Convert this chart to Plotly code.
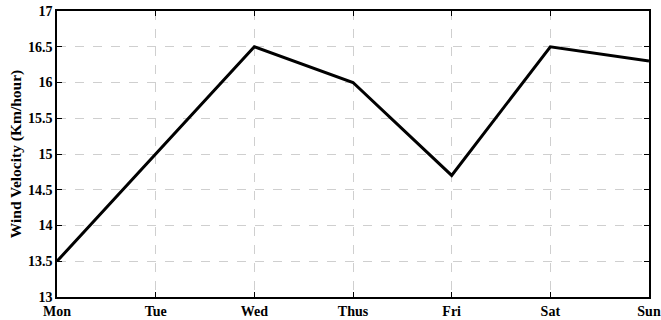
import plotly.graph_objects as go

days = ["Mon", "Tue", "Wed", "Thus", "Fri", "Sat", "Sun"]
velocity = [13.5, 15.0, 16.5, 16.0, 14.7, 16.5, 16.3]
y_ticks = [13, 13.5, 14, 14.5, 15, 15.5, 16, 16.5, 17]
y_tick_labels = ["13", "13.5", "14", "14.5", "15", "15.5", "16", "16.5", "17"]

font = dict(family="Liberation Serif, Times New Roman, serif", size=14, color="black")

fig = go.Figure()
fig.add_trace(go.Scatter(
    x=list(range(len(days))), y=velocity, mode="lines",
    line=dict(color="black", width=3), showlegend=False,
))

axis_common = dict(
    showline=True, linecolor="black", linewidth=1.5, mirror="ticks",
    ticks="inside", ticklen=5, tickcolor="black", tickwidth=1,
    showgrid=True, gridcolor="#cfcfcf", griddash="dash", gridwidth=1,
    zeroline=False, tickfont=font, automargin=False,
)

fig.update_layout(
    width=661, height=320,
    margin=dict(l=57, r=12, t=11, b=23),
    paper_bgcolor="white", plot_bgcolor="white",
    font=font,
    xaxis=dict(
        range=[0, 6], tickmode="array", tickvals=list(range(len(days))),
        ticktext=[f"<b>{d}</b>" for d in days], **axis_common,
    ),
    yaxis=dict(
        range=[13, 17], tickmode="array", tickvals=y_ticks,
        ticktext=[f"<b>{t}</b>" for t in y_tick_labels],
        title=dict(text="<b>Wind Velocity (Km/hour)</b>", font=dict(size=15.5), standoff=3),
        **axis_common,
    ),
)

fig.write_html(
    "out.html",
    config={"displayModeBar": False},
    post_script="document.body.style.margin='0';document.body.style.overflow='hidden';",
)
